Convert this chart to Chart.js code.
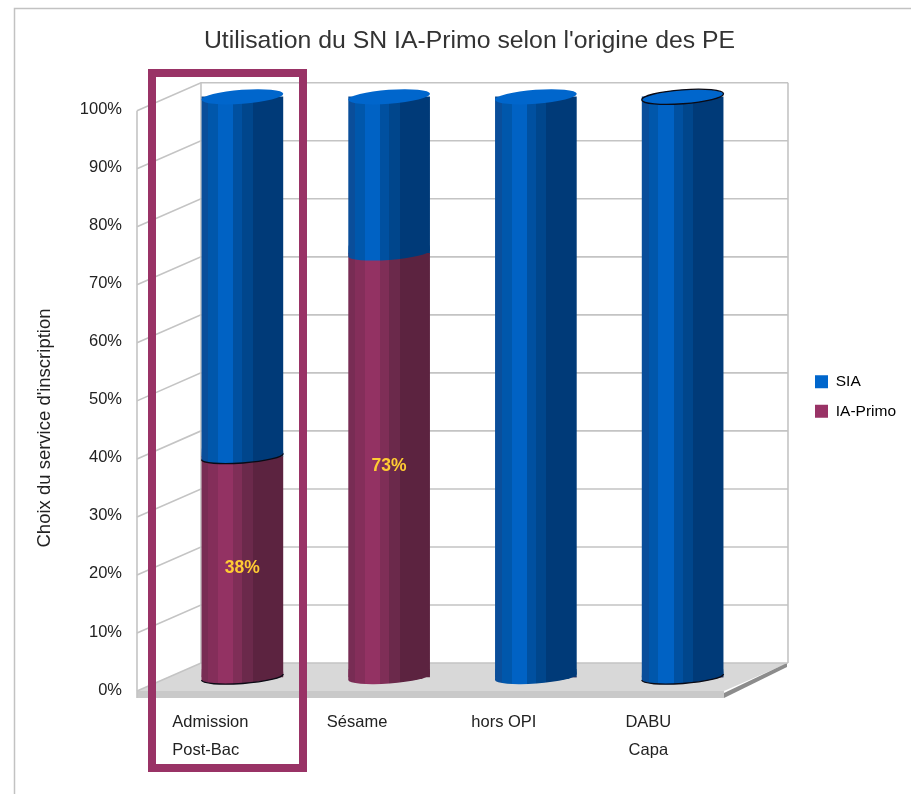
<!DOCTYPE html>
<html lang="fr">
<head>
<meta charset="utf-8">
<title>Utilisation du SN IA-Primo</title>
<script src="https://cdn.jsdelivr.net/npm/chart.js@4"></script>
<style>
html,body{margin:0;padding:0;background:#fff;overflow:hidden}
canvas{display:block;filter:blur(0.4px)}
</style>
</head>
<body>
<canvas id="c" width="911" height="794"></canvas>
<script>
const categories = [['Admission','Post-Bac\u00a0\u00a0'],['Sésame'],['hors OPI'],['DABU\u00a0','Capa\u00a0']];
const iaPrimo = [38, 73, 0, 0];
const sia = [62, 27, 100, 100];
const yTicks = [0,10,20,30,40,50,60,70,80,90,100];
const chartTitle = "Utilisation du SN IA-Primo selon l'origine des PE";
const yTitle = "Choix du service d'inscription";

const DX = 64, DY = -28;           // depth of the 3D box
const FONT = '"Liberation Sans", Arial, sans-serif';
const bandPos = [0, .08, .2, .39, .5, .63, 1];
const blueBands = ['#0a4e9a','#0057ab','#0062c4','#0050a0','#00468c','#003a78'];
const purpleBands = ['#782c54','#842e5a','#933263','#7f2e57','#6b294b','#5c2340'];

function cylinderFill(chart, i, bands){
  const x = chart.scales.x.getPixelForValue(i);
  const g = chart.ctx.createLinearGradient(x-40.5,0,x+40.5,0);
  bands.forEach((col,k)=>{ g.addColorStop(bandPos[k],col); g.addColorStop(bandPos[k+1],col); });
  return g;
}
const fill3d = (solid,bands)=> c => c.type==='data' ? cylinderFill(c.chart,c.dataIndex,bands) : solid;

const box3d = {
  id:'box3d',
  beforeDraw(chart){
    const c = chart.ctx;
    c.save(); c.strokeStyle='#c2c2c2'; c.lineWidth=1.5;
    c.beginPath(); c.moveTo(14.5,794); c.lineTo(14.5,8.5); c.lineTo(911,8.5); c.stroke();
    c.restore();
  },
  beforeDatasetsDraw(chart){
    const c = chart.ctx, {x,y} = chart.scales, a = chart.chartArea;
    const L=a.left,R=a.right,B=a.bottom,T=a.top;
    c.save();
    // floor
    c.fillStyle='#d8d8d8';
    c.beginPath(); c.moveTo(L,B); c.lineTo(R,B); c.lineTo(R+DX,B+DY); c.lineTo(L+DX,B+DY); c.closePath(); c.fill();
    c.fillStyle='#c9c9c9'; c.fillRect(L,B,R-L,7);
    c.fillStyle='#8c8c8c';
    c.beginPath(); c.moveTo(R,B+2); c.lineTo(R+DX-1,B+DY); c.lineTo(R+DX-1,B+DY+4); c.lineTo(R,B+7); c.closePath(); c.fill();
    // walls and grid
    c.strokeStyle='#c4c4c4'; c.lineWidth=1.6;
    yTicks.forEach(v=>{
      const p=y.getPixelForValue(v);
      c.beginPath(); c.moveTo(L,p); c.lineTo(L+DX,p+DY); c.lineTo(R+DX,p+DY); c.stroke();
    });
    c.beginPath(); c.moveTo(L,T); c.lineTo(L,B+7); c.stroke();
    c.beginPath(); c.moveTo(L+DX,T+DY); c.lineTo(L+DX,B+DY); c.stroke();
    c.beginPath(); c.moveTo(R+DX,T+DY); c.lineTo(R+DX,B+DY); c.stroke();
    c.restore();
    // bars are drawn one half depth behind the front plane
    c.save(); c.translate(DX/2,DY/2);
  },
  afterDatasetsDraw(chart){
    const c = chart.ctx, y = chart.scales.y;
    const A=41, Bm=6.5, ROT=-0.075;
    const cap=(i,ds)=>{
      const el=chart.getDatasetMeta(ds).data[i];
      return {x:el.x, top:el.y, base:el.base};
    };
    [0,1].forEach(ds=>{
      const vals = ds===0?iaPrimo:sia;
      vals.forEach((v,i)=>{
        if(!v) return;
        const e=cap(i,ds);
        c.fillStyle=cylinderFill(chart,i,ds===0?purpleBands:blueBands);
        c.beginPath(); c.ellipse(e.x,e.base,A,Bm,ROT,0,Math.PI);
        c.lineTo(e.x-40.5,e.base-8); c.lineTo(e.x+40.5,e.base-8); c.closePath(); c.fill();
      });
    });
    c.strokeStyle='#0a0a14'; c.lineWidth=1.3;
    [[0,iaPrimo[0]],[0,0],[3,0]].forEach(([i,val])=>{
      const e=chart.getDatasetMeta(1).data[i];
      c.beginPath(); c.ellipse(e.x,y.getPixelForValue(val),A,Bm,ROT,0,Math.PI); c.stroke();
    });
    sia.forEach((v,i)=>{
      const e=cap(i,1);
      c.fillStyle='#0066cc';
      c.beginPath(); c.ellipse(e.x,e.top,A,Bm+.5,ROT,0,Math.PI*2); c.fill();
      if(i===3){ c.beginPath(); c.ellipse(e.x,e.top,A,Bm+.5,ROT,0,Math.PI*2); c.stroke(); }
    });
    // value labels
    c.fillStyle='#ffcc33'; c.font='bold 17.5px '+FONT; c.textAlign='center'; c.textBaseline='middle';
    iaPrimo.forEach((v,i)=>{
      if(!v) return;
      const e=cap(i,0);
      c.fillText(v+'%',e.x,(e.top+e.base)/2+1);
    });
    c.restore();
  },
  afterLayout(chart){
    const t=chart.titleBlock; t.left=28; t.right=911;
    const l=chart.legend; l.left=801; l.right=907; l.width=106; l.top=360; l.bottom=440; l.height=80;
    if(l.adjustHitBoxes) l.adjustHitBoxes();
  },
  afterDraw(chart){
    const c=chart.ctx;
    c.save();
    c.fillStyle='#222'; c.font='18.5px '+FONT; c.textAlign='center'; c.textBaseline='middle';
    c.translate(45,428); c.rotate(-Math.PI/2); c.fillText(yTitle,0,0);
    c.restore();
    c.save();
    c.strokeStyle='#993366'; c.lineWidth=8;
    c.strokeRect(152,73,151,695);
    c.restore();
  }
};

new Chart(document.getElementById('c'),{
  type:'bar',
  data:{
    labels:categories,
    datasets:[
      {label:'IA-Primo',data:iaPrimo,backgroundColor:fill3d('#993366',purpleBands),barThickness:81,clip:false,stack:'s'},
      {label:'SIA',data:sia,backgroundColor:fill3d('#0066cc',blueBands),barThickness:81,clip:false,stack:'s'}
    ]
  },
  plugins:[box3d],
  options:{
    responsive:false,animation:false,events:[],
    layout:{padding:{left:0,right:187,top:0,bottom:0}},
    plugins:{
      tooltip:{enabled:false},
      title:{display:true,text:chartTitle,color:'#333',font:{family:FONT,size:24.8,weight:'normal'},padding:{top:26,bottom:111-26-30}},
      legend:{
        position:'chartArea',align:'start',
        labels:{boxWidth:13,boxHeight:13,color:'#222',font:{family:FONT,size:15.5},padding:14,
          generateLabels(chart){
            return [1,0].map(d=>({text:chart.data.datasets[d].label,fillStyle:d?'#0066cc':'#993366',strokeStyle:d?'#0066cc':'#993366',lineWidth:0,datasetIndex:d}));
          }}
      }
    },
    scales:{
      x:{
        stacked:true,
        grid:{display:false,drawTicks:false},border:{display:false},
        afterFit(s){s.height=103;},
        ticks:{color:'#222',font:{family:FONT,size:16.5,lineHeight:1.7},padding:17,autoSkip:false,maxRotation:0}
      },
      y:{
        stacked:true,min:0,max:100,
        grid:{display:false,drawTicks:false},border:{display:false},
        afterFit(s){s.width=137;},
        afterBuildTicks(s){s.ticks=yTicks.map(v=>({value:v}));},
        ticks:{color:'#222',font:{family:FONT,size:16.5},padding:15,labelOffset:-1,callback:v=>v+'%'}
      }
    }
  }
});
</script>
</body>
</html>
